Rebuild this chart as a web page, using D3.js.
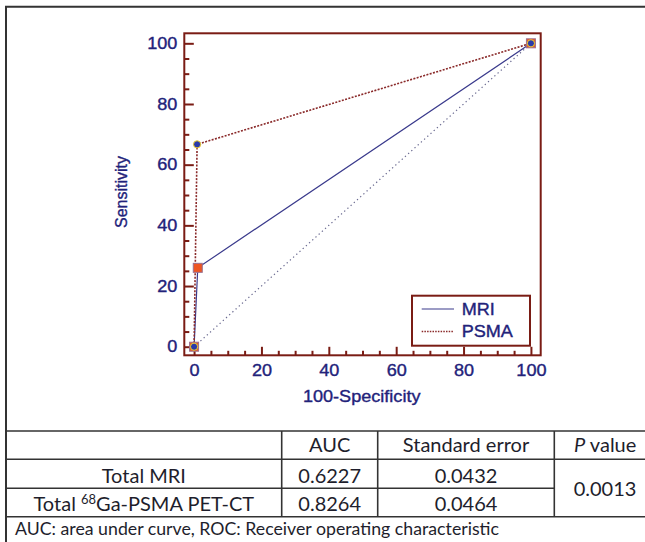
<!DOCTYPE html>
<html>
<head>
<meta charset="utf-8">
<script src="https://d3js.org/d3.v7.min.js"></script>
<style>
  body { margin: 0; background: #fff; }
  svg { display: block; }
</style>
</head>
<body>
<svg width="645" height="542"></svg>
<script>
// ROC curve values
var majorTicks = [0, 20, 40, 60, 80, 100];
var minorTicks = [5, 10, 15, 25, 30, 35, 45, 50, 55, 65, 70, 75, 85, 90, 95];

var mriX = [0, 1.1, 100];
var mriY = [0, 26.0, 100];
var psmaX = [0, 0.9, 100];
var psmaY = [0, 66.7, 100];
var refX = [0, 100];
var refY = [0, 100];

var legendNames = ["MRI", "PSMA"];

// table under the chart
var tableHeader = ["", "AUC", "Standard error", "P value"];
var rowNames = ["Total MRI", "Total 68Ga-PSMA PET-CT"];
var aucValues = ["0.6227", "0.8264"];
var seValues = ["0.0432", "0.0464"];
var pValue = "0.0013";
var footnote = "AUC: area under curve, ROC: Receiver operating characteristic";

var navy = "#22227a",
    maroon = "#7a1c14",
    stretch = 1.13;

var svg = d3.select("svg");

// outer box of the figure (runs off the right edge)
svg.append("path")
  .attr("d", "M660,6.7 H6 V560")
  .attr("fill", "none")
  .attr("stroke", "#333")
  .attr("stroke-width", 2);

// scales
var x = d3.scaleLinear().domain([-2.9, 102.9]).range([184.3, 540.7]);
var y = d3.scaleLinear().domain([-2.83, 103.3]).range([355.3, 33.3]);

var plot = svg.append("g");

// minor ticks
plot.append("g")
  .attr("transform", "translate(0,355.3)")
  .call(d3.axisBottom(x).tickValues(minorTicks).tickSize(-4.5).tickFormat(""))
  .call(styleAxis);

plot.append("g")
  .attr("transform", "translate(184.3,0)")
  .call(d3.axisLeft(y).tickValues(minorTicks).tickSize(-5).tickFormat(""))
  .call(styleAxis);

// major ticks with labels
plot.append("g")
  .attr("transform", "translate(0,355.3)")
  .call(d3.axisBottom(x).tickValues(majorTicks).tickSize(-8.5).tickPadding(9))
  .call(styleAxis);

plot.append("g")
  .attr("transform", "translate(184.3,0)")
  .call(d3.axisLeft(y).tickValues(majorTicks).tickSize(-9.5).tickPadding(6.2))
  .call(styleAxis);

function styleAxis(g) {
  g.select(".domain").remove();
  g.selectAll("line")
    .attr("stroke", maroon)
    .attr("stroke-width", 2);
  g.selectAll("text")
    .attr("fill", navy)
    .attr("stroke", navy)
    .attr("stroke-width", 0.35)
    .attr("font-family", "'Liberation Sans', Arial, sans-serif")
    .attr("font-size", 16)
    .attr("transform", "scale(" + stretch + ",1)");
}

// frame
plot.append("rect")
  .attr("x", 184.3)
  .attr("y", 33.3)
  .attr("width", 540.7 - 184.3)
  .attr("height", 355.3 - 33.3)
  .attr("fill", "none")
  .attr("stroke", maroon)
  .attr("stroke-width", 2);

// axis titles
plot.append("text")
  .attr("transform", "translate(361.7,401.7) scale(" + stretch + ",1)")
  .attr("text-anchor", "middle")
  .attr("fill", navy)
  .attr("stroke", navy)
  .attr("stroke-width", 0.35)
  .attr("font-family", "'Liberation Sans', Arial, sans-serif")
  .attr("font-size", 16)
  .text("100-Specificity");

plot.append("text")
  .attr("transform", "translate(126.5,192) rotate(-90)")
  .attr("text-anchor", "middle")
  .attr("fill", navy)
  .attr("stroke", navy)
  .attr("stroke-width", 0.35)
  .attr("font-family", "'Liberation Sans', Arial, sans-serif")
  .attr("font-size", 16)
  .text("Sensitivity");

var line = d3.line()
  .x(function(d) { return x(d[0]); })
  .y(function(d) { return y(d[1]); });

// reference diagonal
plot.append("path")
  .attr("d", line(d3.zip(refX, refY)))
  .attr("fill", "none")
  .attr("stroke", "#6a6a90")
  .attr("stroke-width", 1.2)
  .attr("stroke-dasharray", "1.3,3");

// MRI curve
plot.append("path")
  .attr("d", line(d3.zip(mriX, mriY)))
  .attr("fill", "none")
  .attr("stroke", "#3a3a8c")
  .attr("stroke-width", 1.2);

// PSMA curve
plot.append("path")
  .attr("d", line(d3.zip(psmaX, psmaY)))
  .attr("fill", "none")
  .attr("stroke", "#8a2a2a")
  .attr("stroke-width", 1.6)
  .attr("stroke-dasharray", "2,1.4");

// MRI markers
plot.selectAll(".mri")
  .data(d3.zip(mriX, mriY))
  .enter()
  .append("rect")
    .attr("class", "mri")
    .attr("x", function(d) { return x(d[0]) - 4.5; })
    .attr("y", function(d) { return y(d[1]) - 4.5; })
    .attr("width", 9)
    .attr("height", 9)
    .attr("fill", "#ee5522")
    .attr("stroke", "#9a7090")
    .attr("stroke-width", 1);

// PSMA markers
plot.selectAll(".psma")
  .data(d3.zip(psmaX, psmaY))
  .enter()
  .append("circle")
    .attr("class", "psma")
    .attr("cx", function(d) { return x(d[0]); })
    .attr("cy", function(d) { return y(d[1]); })
    .attr("r", 3.6)
    .attr("fill", "#2a3aa8")
    .attr("stroke", "#f0d030")
    .attr("stroke-width", 1);

// legend
var legend = plot.append("g");

legend.append("rect")
  .attr("x", 412)
  .attr("y", 295.7)
  .attr("width", 118)
  .attr("height", 50)
  .attr("fill", "#fff")
  .attr("stroke", maroon)
  .attr("stroke-width", 2);

legend.append("line")
  .attr("x1", 421.7).attr("x2", 454)
  .attr("y1", 309).attr("y2", 309)
  .attr("stroke", "#3a3a8c")
  .attr("stroke-width", 1.2);

legend.append("line")
  .attr("x1", 421.7).attr("x2", 454)
  .attr("y1", 331.5).attr("y2", 331.5)
  .attr("stroke", "#8a2a2a")
  .attr("stroke-width", 1.4)
  .attr("stroke-dasharray", "1.5,1.2");

legend.selectAll(".lg")
  .data(legendNames)
  .enter()
  .append("text")
    .attr("class", "lg")
    .attr("transform", function(d, i) {
      return "translate(461.7," + (315 + i * 21.7) + ") scale(" + stretch + ",1)";
    })
    .attr("fill", navy)
    .attr("stroke", navy)
    .attr("stroke-width", 0.35)
    .attr("font-family", "'Liberation Sans', Arial, sans-serif")
    .attr("font-size", 16)
    .text(function(d) { return d; });

// table
var table = svg.append("g")
  .attr("font-family", "Lato, 'Open Sans', sans-serif")
  .attr("font-size", 20)
  .attr("fill", "#1e1e2c");

var colEdges = [6, 281.7, 377.7, 554.3, 656];
var rowEdges = [431, 459.3, 488.3, 516.7];

function hline(yy, x1, x2) {
  table.append("line")
    .attr("x1", x1).attr("x2", x2)
    .attr("y1", yy).attr("y2", yy)
    .attr("stroke", "#333")
    .attr("stroke-width", 1.6);
}
function vline(xx, y1, y2) {
  table.append("line")
    .attr("x1", xx).attr("x2", xx)
    .attr("y1", y1).attr("y2", y2)
    .attr("stroke", "#333")
    .attr("stroke-width", 1.6);
}

hline(rowEdges[0], 6, 660);
hline(rowEdges[1], 6, 660);
hline(rowEdges[2], 6, colEdges[3]);
hline(rowEdges[3], 6, 660);
vline(colEdges[1], rowEdges[0], rowEdges[3]);
vline(colEdges[2], rowEdges[0], rowEdges[3]);
vline(colEdges[3], rowEdges[0], rowEdges[3]);

function colMid(i) { return (colEdges[i] + colEdges[i + 1]) / 2; }

// header
tableHeader.forEach(function(h, i) {
  if (i == 0) return;
  var t = table.append("text")
    .attr("x", colMid(i))
    .attr("y", 452)
    .attr("text-anchor", "middle");
  if (h == "P value") {
    t.append("tspan").attr("font-style", "italic").text("P");
    t.append("tspan").text(" value");
  } else {
    t.text(h);
  }
});

// rows
var rowBase = [482.5, 511];
rowNames.forEach(function(name, i) {
  var t = table.append("text")
    .attr("x", colMid(0))
    .attr("y", rowBase[i])
    .attr("text-anchor", "middle");
  if (name.indexOf("68") >= 0) {
    var parts = name.split("68");
    t.append("tspan").text(parts[0]);
    t.append("tspan").attr("font-size", 13).attr("dy", -7).text("68");
    t.append("tspan").attr("dy", 7).text(parts[1]);
  } else {
    t.text(name);
  }
  table.append("text")
    .attr("x", colMid(1))
    .attr("y", rowBase[i])
    .attr("text-anchor", "middle")
    .text(aucValues[i]);
  table.append("text")
    .attr("x", colMid(2))
    .attr("y", rowBase[i])
    .attr("text-anchor", "middle")
    .text(seValues[i]);
});

table.append("text")
  .attr("x", 605)
  .attr("y", 496)
  .attr("text-anchor", "middle")
  .text(pValue);

table.append("text")
  .attr("x", 15)
  .attr("y", 535)
  .attr("font-size", 17)
  .attr("textLength", 484)
  .attr("lengthAdjust", "spacingAndGlyphs")
  .text(footnote);
</script>
</body>
</html>
